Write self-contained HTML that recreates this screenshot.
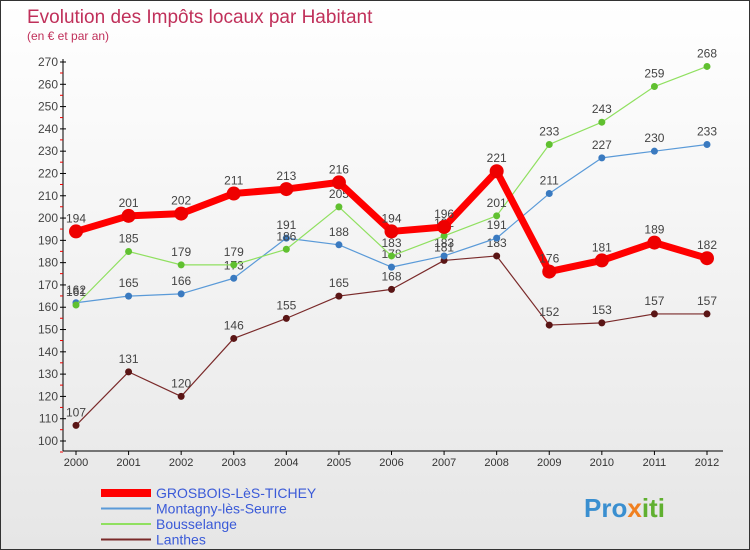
<!DOCTYPE html>
<html><head><meta charset="utf-8"><style>
body{margin:0}
#c{width:750px;height:550px;position:relative;background:linear-gradient(#fff,#e6e6e6);border:1px solid #333;box-sizing:border-box;font-family:"Liberation Sans",sans-serif;overflow:hidden}
text{font-family:"Liberation Sans",sans-serif}
</style></head><body>
<div id="c">
<svg id="s" width="750" height="550">
<text x="26" y="22" font-size="19" fill="#c0305a">Evolution des Impôts locaux par Habitant</text>
<text x="26" y="39" font-size="12" fill="#c0305a">(en € et par an)</text>
<text x="583" y="516" font-size="26" font-weight="bold" fill="#3a8fd0">Pro<tspan fill="#f08020">x</tspan><tspan fill="#60b030">iti</tspan></text>
</svg></div>
<script>
const years=[2000,2001,2002,2003,2004,2005,2006,2007,2008,2009,2010,2011,2012];
const grosbois=[194,201,202,211,213,216,194,196,221,176,181,189,182];
const montagny=[162,165,166,173,191,188,178,183,191,211,227,230,233];
const bousselange=[161,185,179,179,186,205,183,192,201,233,243,259,268];
const lanthes=[107,131,120,146,155,165,168,181,183,152,153,157,157];
const yTicks=[100,110,120,130,140,150,160,170,180,190,200,210,220,230,240,250,260,270];
const seriesNames=["GROSBOIS-LèS-TICHEY","Montagny-lès-Seurre","Bousselange","Lanthes"];
const NS="http://www.w3.org/2000/svg",svg=document.getElementById('s');
const xS=i=>75+i*(706-75)/12, yS=v=>440-(v-100)*(440-61)/170;
function el(t,a,p){const e=document.createElementNS(NS,t);for(const k in a)e.setAttribute(k,a[k]);(p||svg).appendChild(e);return e;}
let ax=el('line',{x1:62,y1:58,x2:62,y2:450,stroke:'#000'});

let bx=el('line',{x1:62,y1:450,x2:722,y2:450,stroke:'#000'});

yTicks.forEach(v=>{const y=yS(v);
 el('line',{x1:59,y1:y,x2:65,y2:y,stroke:'#000'});
 el('line',{x1:59,y1:y+11,x2:62,y2:y+11,stroke:'#e00'});
 const t=el('text',{x:57,y:y+4,'font-size':12,fill:'#444','text-anchor':'end'});t.textContent=v;
 });
years.forEach((yr,i)=>{const x=xS(i);el('line',{x1:x,y1:450,x2:x,y2:454,stroke:'#000'});
 const t=el('text',{x:x,y:465,'font-size':11,fill:'#333','text-anchor':'middle'});t.textContent=yr;
 });
const series=[[lanthes,'#7a2a2a','#5a1515',1.2,3.5],[montagny,'#5a9ad8','#3a7ac0',1.2,3.5],[bousselange,'#90e060','#60c030',1.2,3.5],[grosbois,'#ff0000','#ee0000',7,7]];
const names=['lanthes','montagny','bousselange','grosbois'];
series.forEach(([d,c,dc,w,r],si)=>{
 const l=el('polyline',{points:d.map((v,i)=>xS(i)+','+yS(v)).join(' '),fill:'none',stroke:c,'stroke-width':w,'stroke-linejoin':'round'});
 
 d.forEach((v,i)=>{const p=el('circle',{cx:xS(i),cy:yS(v),r:r,fill:dc});
  
  const t=el('text',{x:xS(i),y:yS(v)-9,'font-size':12,fill:'#444','text-anchor':'middle'});t.textContent=v;
  });
});
const lc=['#ff0000','#5a9ad8','#90e060','#7a2a2a'],lw=[8,2,2,2];
seriesNames.forEach((n,i)=>{const y=492+i*15.5;
 const g=el('g',{});
 el('line',{x1:100,y1:y,x2:150,y2:y,stroke:lc[i],'stroke-width':lw[i]},g);
 const t=el('text',{x:155,y:y+5,'font-size':14,fill:'#3a5ad8'},g);t.textContent=n;});
</script>
</body></html>
